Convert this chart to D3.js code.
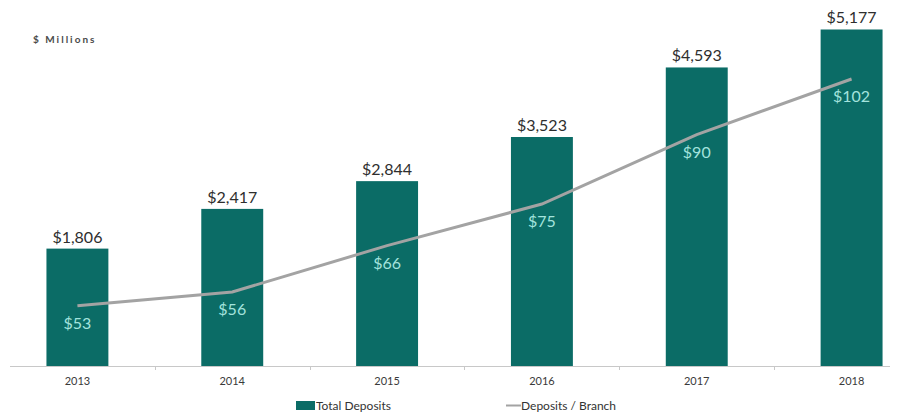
<!DOCTYPE html>
<html>
<head>
<meta charset="utf-8">
<script src="https://cdn.jsdelivr.net/npm/d3@7"></script>
<style>
  html, body { margin: 0; padding: 0; background: #ffffff; }
  svg { display: block; }
  text { font-family: Lato, "Open Sans", sans-serif; }
</style>
</head>
<body>
<svg id="chart" width="897" height="414"></svg>
<script>
// Years shown along the x axis
const years = ["2013", "2014", "2015", "2016", "2017", "2018"];
// Total deposits, $ millions (bars)
const totalDeposits = [1806, 2417, 2844, 3523, 4593, 5177];
// Deposits per branch, $ millions (line)
const depositsPerBranch = [53, 56, 66, 75, 90, 102];

const svg = d3.select("#chart");
const baseY = 366;

// Category scale: one band per year
const x = d3.scaleBand().domain(years).range([0, 929]).paddingInner(0.6).paddingOuter(0.3);

// Primary value axis (bars)
const y = d3.scaleLinear().domain([0, 5000]).range([baseY, 41]);

// Secondary value axis (line)
const y2 = d3.scaleLinear().domain([40, 110]).range([baseY, 42]);

const barColor = "#0b6c66";
const lineColor = "#a3a3a3";
const innerLabel = "#a3e3dd";

// Bars
svg.append("g").selectAll("rect")
  .data(years)
  .join("rect")
  .attr("x", d => x(d))
  .attr("width", x.bandwidth())
  .attr("y", (d, i) => y(totalDeposits[i]))
  .attr("height", (d, i) => baseY - y(totalDeposits[i]))
  .attr("fill", barColor);

// Bar value labels
svg.append("g").selectAll("text")
  .data(years)
  .join("text")
  .attr("x", d => x(d) + x.bandwidth() / 2)
  .attr("y", (d, i) => y(totalDeposits[i]) - 6)
  .attr("text-anchor", "middle")
  .attr("font-size", 16)
  .attr("fill", "#2e2e2e")
  .text((d, i) => "$" + d3.format(",")(totalDeposits[i]));

// Baseline axis
const xAxis = d3.axisBottom(x).tickSize(0).tickPadding(11);
const gx = svg.append("g").attr("transform", `translate(0,${baseY})`).call(xAxis);
gx.select(".domain").remove();
gx.selectAll("text")
  .attr("font-size", 11)
  .attr("fill", "#3a3a3a")
  .style("font-family", "Lato, 'Open Sans', sans-serif");
svg.append("line")
  .attr("x1", 10).attr("x2", 890)
  .attr("y1", baseY + 0.5).attr("y2", baseY + 0.5)
  .attr("stroke", "#c8c8c8").attr("stroke-width", 1);
// Category divider tick marks
svg.append("g").selectAll("line")
  .data(years.slice(1))
  .join("line")
  .attr("x1", d => Math.round(x(d) - x.step() * x.paddingInner() / 2) + 0.5)
  .attr("x2", d => Math.round(x(d) - x.step() * x.paddingInner() / 2) + 0.5)
  .attr("y1", baseY).attr("y2", baseY + 4)
  .attr("stroke", "#c8c8c8");

// Deposits per branch line
const line = d3.line()
  .x((d, i) => x(years[i]) + x.bandwidth() / 2)
  .y(d => y2(d));
svg.append("path")
  .datum(depositsPerBranch)
  .attr("d", line)
  .attr("fill", "none")
  .attr("stroke", lineColor)
  .attr("stroke-width", 3);

// Line value labels
svg.append("g").selectAll("text")
  .data(depositsPerBranch)
  .join("text")
  .attr("x", (d, i) => x(years[i]) + x.bandwidth() / 2)
  .attr("y", d => y2(d) + 23)
  .attr("text-anchor", "middle")
  .attr("font-size", 16)
  .attr("fill", innerLabel)
  .text(d => "$" + d);

// Unit caption
svg.append("text")
  .attr("x", 33).attr("y", 43)
  .attr("font-size", 10)
  .attr("font-weight", "bold")
  .attr("letter-spacing", 2)
  .attr("fill", "#4a4a4a")
  .text("$ Millions");

// Legend
const legend = svg.append("g");
legend.append("rect")
  .attr("x", 296).attr("y", 401).attr("width", 19).attr("height", 9)
  .attr("fill", barColor);
legend.append("text")
  .attr("x", 316).attr("y", 410)
  .attr("font-size", 12).attr("fill", "#333")
  .text("Total Deposits");
legend.append("line")
  .attr("x1", 506).attr("x2", 521).attr("y1", 405.5).attr("y2", 405.5)
  .attr("stroke", lineColor).attr("stroke-width", 2);
legend.append("text")
  .attr("x", 521).attr("y", 410)
  .attr("font-size", 12).attr("fill", "#333")
  .text("Deposits / Branch");
</script>
</body>
</html>
